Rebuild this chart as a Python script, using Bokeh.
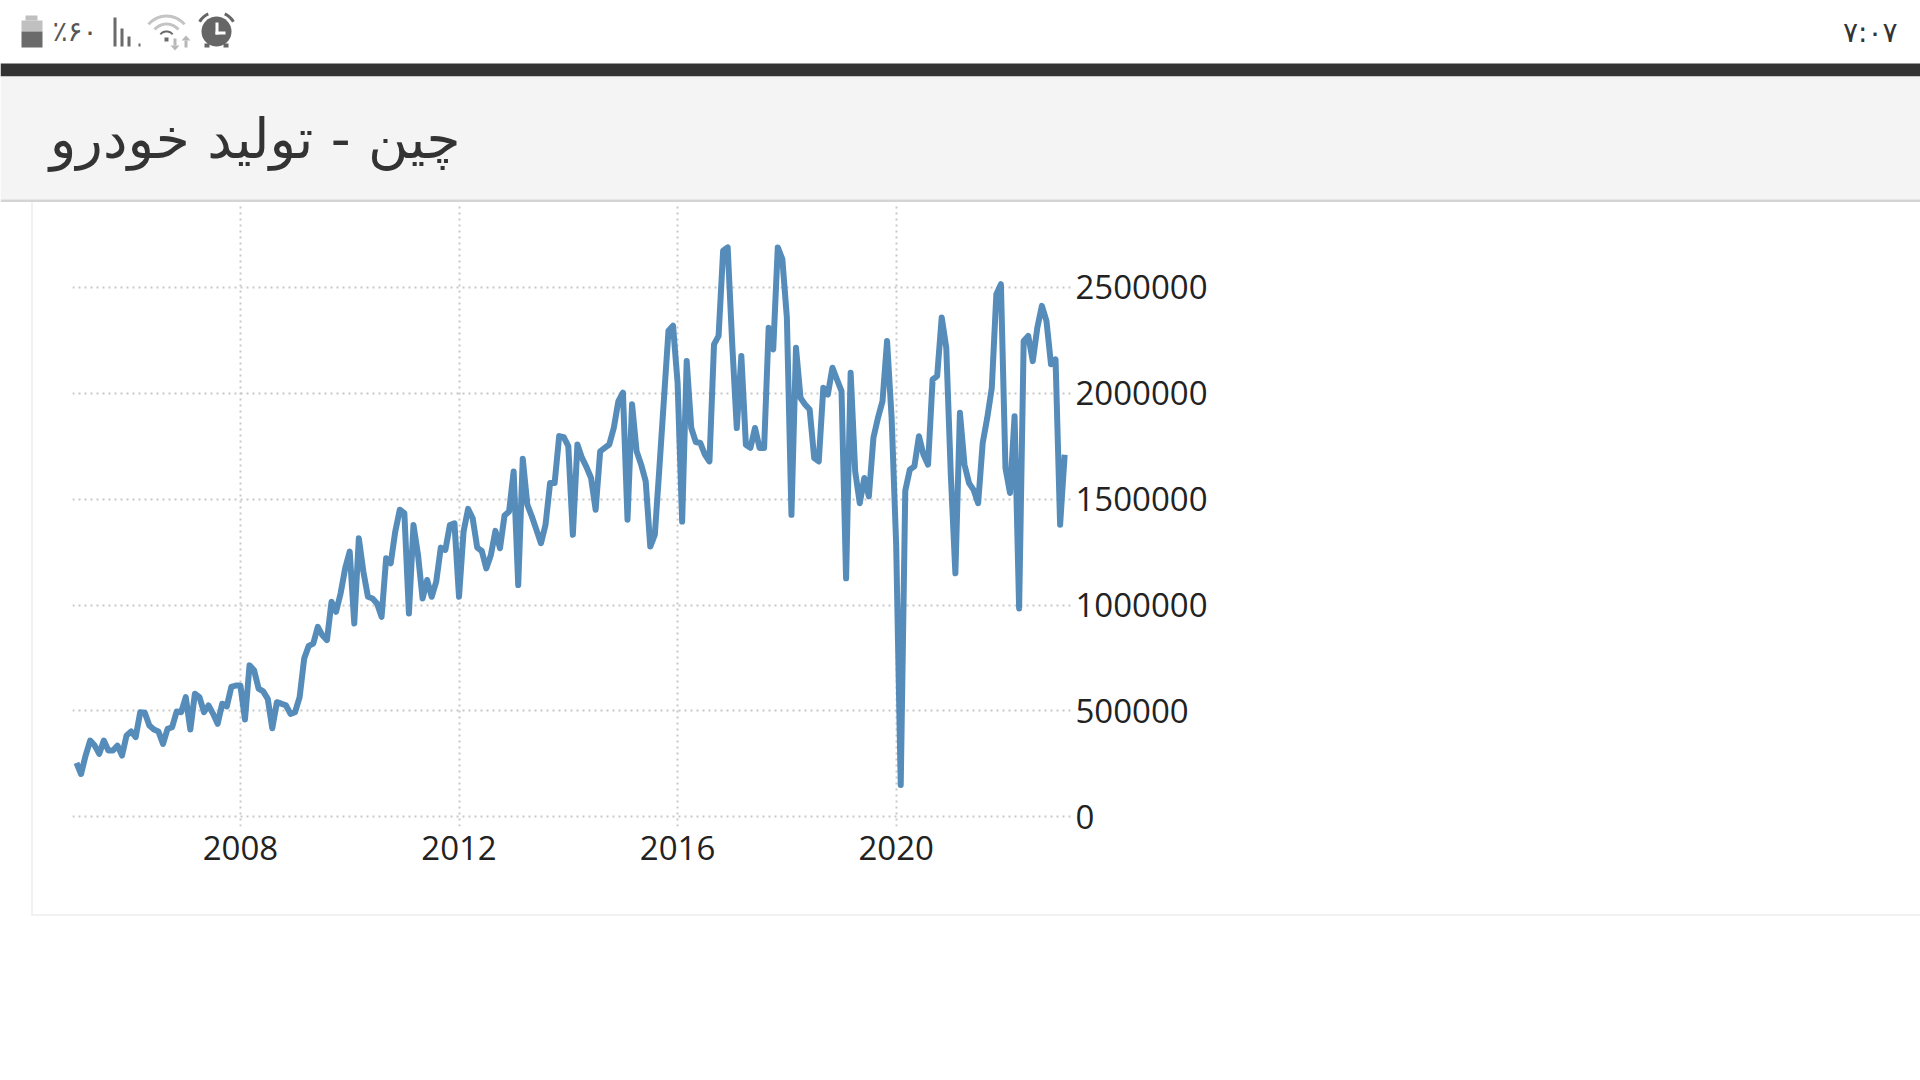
import math
from bokeh.core.properties import value
from bokeh.embed import file_html
from bokeh.layouts import column
from bokeh.resources import INLINE
from bokeh.plotting import figure
from bokeh.models import Range1d, FixedTicker

TITLE = "چین - تولید خودرو"
BATTERY_TEXT = "٪۶۰"
CLOCK_TEXT = "۷:۰۷"

START_YEAR = 2005
y2005 = [254, 202, 289, 360, 336, 297, 360, 313, 313, 336, 289, 384]
y2006 = [403, 376, 494, 491, 431, 412, 403, 344, 415, 423, 497, 494]
y2007 = [565, 412, 581, 565, 494, 526, 486, 439, 534, 521, 613, 620]
y2008 = [620, 459, 715, 692, 605, 592, 557, 418, 541, 534, 526, 486]
y2009 = [494, 565, 747, 807, 818, 897, 857, 834, 1015, 968, 1055, 1173]
y2010 = [1252, 913, 1315, 1157, 1039, 1031, 1007, 944, 1221, 1197, 1347, 1450]
y2011 = [1434, 960, 1378, 1236, 1031, 1118, 1039, 1110, 1271, 1260, 1378, 1386]
y2012 = [1039, 1347, 1454, 1410, 1271, 1255, 1173, 1236, 1350, 1268, 1423, 1442]
y2013 = [1631, 1094, 1691, 1474, 1418, 1355, 1292, 1379, 1576, 1576, 1798, 1793]
y2014 = [1750, 1332, 1758, 1695, 1651, 1600, 1450, 1726, 1742, 1758, 1837, 1963]
y2015 = [2003, 1403, 1948, 1726, 1663, 1584, 1276, 1332, 1647, 1971, 2295, 2319]
y2016 = [2050, 1394, 2152, 1836, 1770, 1765, 1710, 1678, 2231, 2271, 2673, 2689]
y2017 = [2231, 1836, 2176, 1757, 1742, 1836, 1742, 1742, 2310, 2207, 2689, 2634]
y2018 = [2357, 1426, 2215, 1978, 1947, 1923, 1694, 1678, 2026, 1994, 2121, 2065]
y2019 = [2010, 1126, 2097, 1631, 1481, 1600, 1513, 1789, 1884, 1963, 2247, 1884]
y2020 = [1284, 150, 1540, 1639, 1655, 1797, 1710, 1663, 2065, 2081, 2358, 2215]
y2021 = [1615, 1150, 1908, 1663, 1576, 1544, 1481, 1765, 1884, 2026, 2468, 2515]
y2022 = [1647, 1529, 1892, 984, 2247, 2271, 2152, 2310, 2413, 2342, 2137, 2160]
y2023 = [1379, 1710]

x_ticks = [2008, 2012, 2016, 2020]
y_ticks = [0, 500000, 1000000, 1500000, 2000000, 2500000]

values = [v * 1000 for yr in (y2005, y2006, y2007, y2008, y2009, y2010, y2011, y2012, y2013,
                              y2014, y2015, y2016, y2017, y2018, y2019, y2020, y2021, y2022, y2023)
          for v in yr]
months = [START_YEAR + i / 12 for i in range(len(values))]

# ---------- chart ----------
LEFT_GAP = 31
CHART_W, CHART_H = 1920 - LEFT_GAP, 714
p = figure(width=CHART_W, height=CHART_H, output_backend="svg", toolbar_location=None,
           x_range=Range1d(2004.927, 2023.245), y_range=Range1d(-46000, 2901000),
           y_axis_location="right",
           min_border_left=72 - LEFT_GAP - 2, min_border_right=1920 - 1071,
           min_border_top=0, min_border_bottom=CHART_H - 622 - 2,
           margin=(0, 0, 0, LEFT_GAP), frame_align=False,
           styles={"border-left": "2px solid #f1f1f1", "border-bottom": "2px solid #f1f1f1"})
p.outline_line_color = None
p.background_fill_color = "white"
p.border_fill_color = "white"

FONT = "Open Sans"
for ax, ticks in ((p.xaxis[0], x_ticks), (p.yaxis[0], y_ticks)):
    ax.ticker = FixedTicker(ticks=ticks)
    ax.axis_line_color = None
    ax.major_tick_line_color = None
    ax.minor_tick_line_color = None
    ax.major_tick_out = 0
    ax.major_tick_in = 0
    ax.major_label_text_font = FONT
    ax.major_label_text_font_size = "33px"
    ax.major_label_text_color = "#222222"
p.yaxis[0].formatter.use_scientific = False
p.yaxis[0].major_label_standoff = 2
p.xaxis[0].major_label_standoff = 9

for g in (p.xgrid[0], p.ygrid[0]):
    g.grid_line_color = "#c8c8c8"
    g.grid_line_width = 2
    g.grid_line_dash = "2 4"
p.xgrid[0].ticker = FixedTicker(ticks=x_ticks)
p.ygrid[0].ticker = FixedTicker(ticks=y_ticks)

p.line(months, values, line_color="#4682B4", line_width=6, line_join="round", line_alpha=0.92)

# ---------- status bar and header ----------
h = figure(width=1920, height=202, output_backend="svg", toolbar_location=None,
           x_range=Range1d(0, 1920), y_range=Range1d(202, 0),
           x_axis_type=None, y_axis_type=None,
           min_border=0, min_border_left=0, min_border_right=0, min_border_top=0, min_border_bottom=0,
           margin=(0, 0, 0, 0), frame_align=False)
h.outline_line_color = None
h.grid.visible = False
h.background_fill_color = "white"


def rect(l, t, r, b, color):
    h.quad(left=[l], right=[r], top=[t], bottom=[b], fill_color=color, line_color=None)


def poly(points, color):
    h.patch([a for a, _ in points], [b for _, b in points], fill_color=color, line_color=None)


rect(0, 63, 1920, 76, "#333333")
rect(0, 76, 1920, 199, "#f4f4f4")
rect(0, 199, 1920, 202, "#d4d4d4")

# Battery
rect(25, 15, 37, 20, "#c0c0c0")
rect(21, 20, 42, 31, "#c0c0c0")
rect(21, 31, 42, 47, "#6a6a6a")
# Signal bars
rect(113, 17, 116, 46, "#6a6a6a")
rect(120, 28, 123, 46, "#6a6a6a")
rect(127, 36, 130, 46, "#6a6a6a")
rect(138, 43, 140, 46, "#6a6a6a")


def arc_band(cx, cy, r0, r1, color, a0=-140, a1=-40, n=14):
    angs = [math.radians(a0 + (a1 - a0) * i / n) for i in range(n + 1)]
    pts = [(cx + r1 * math.cos(a), cy + r1 * math.sin(a)) for a in angs]
    pts += [(cx + r0 * math.cos(a), cy + r0 * math.sin(a)) for a in reversed(angs)]
    poly(pts, color)


# Wi-Fi
arc_band(166, 39, 22, 25, "#c4c4c4")
arc_band(166, 39, 14, 17, "#c4c4c4")
arc_band(166, 39, 7, 9, "#6a6a6a")
rect(164, 37, 168, 41, "#6a6a6a")
rect(173, 38, 176, 45, "#b8b8b8")
poly([(170, 45), (179, 45), (174.5, 50)], "#b8b8b8")
rect(184, 40, 187, 47, "#b8b8b8")
poly([(181, 40), (190, 40), (185.5, 35)], "#b8b8b8")

# Alarm clock
circle = [(216 + 15 * math.cos(2 * math.pi * i / 40), 31 + 15 * math.sin(2 * math.pi * i / 40))
          for i in range(40)]
poly(circle, "#666666")
rect(215, 22, 218, 34, "#ffffff")
rect(215, 31, 225, 34, "#ffffff")
arc_band(216, 31, 18, 21, "#666666", a0=-150, a1=-115, n=5)
arc_band(216, 31, 18, 21, "#666666", a0=-65, a1=-30, n=5)
rect(204, 43, 209, 47, "#666666")
rect(223, 43, 228, 47, "#666666")


def text(x, y, s, size, color, align="left", font="DejaVu Sans"):
    h.text(x=[x], y=[y], text=[s], text_font=value(font), text_font_size=size, text_color=color,
           text_align=align, text_baseline="middle")


text(460, 138, TITLE, "55px", "#333333", align="right")
text(97, 31, BATTERY_TEXT, "28px", "#555555", align="right")
text(1897, 32, CLOCK_TEXT, "28px", "#333333", align="right")

layout = column(h, p, spacing=0)
open("out.html", "w").write(file_html(layout, INLINE))
